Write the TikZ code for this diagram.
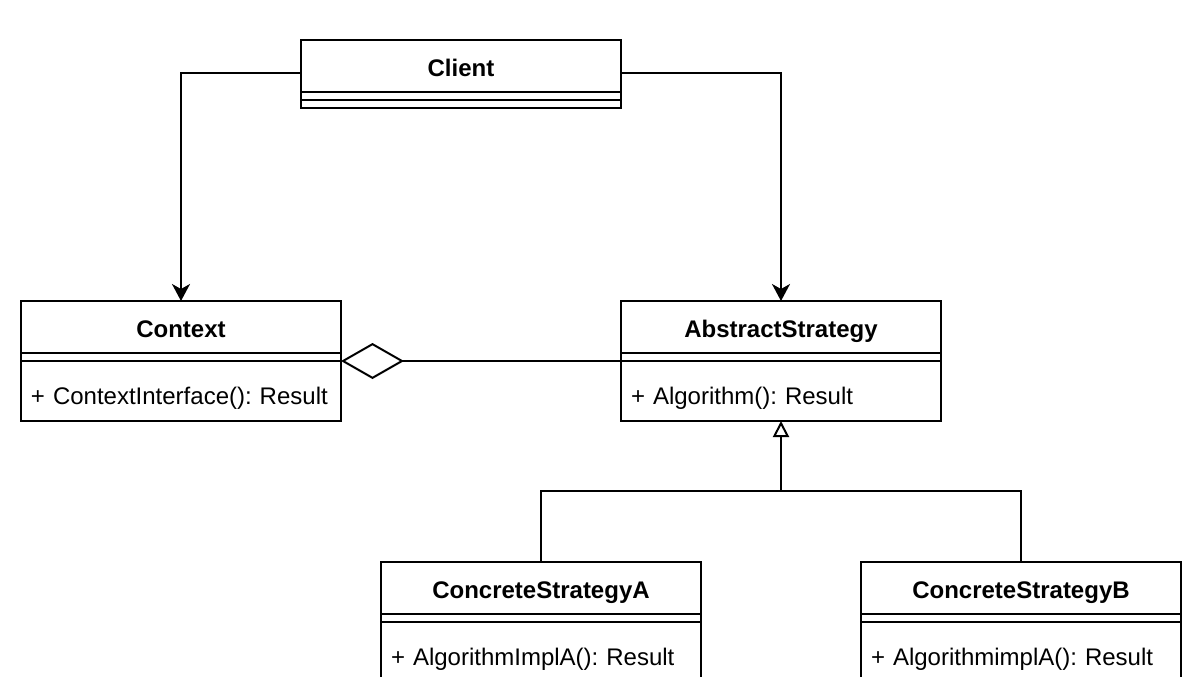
\documentclass[tikz,border=0pt]{standalone}
\usepackage{fontspec}
\setmainfont{Liberation Sans}
\usetikzlibrary{arrows.meta, positioning}

\tikzset{
  umlbox/.style={draw, line width=1pt, outer sep=0pt, inner sep=0pt, minimum width=160pt},
  umlhead/.style={umlbox, minimum height=26pt, font=\fontsize{12}{14}\selectfont\bfseries,
    text height=10.5pt, text depth=0pt},
  umlgap/.style={umlbox, minimum height=4pt},
  umlbody/.style={umlbox, minimum height=30pt, text width=150pt, inner xsep=5pt, align=left,
    font=\fontsize{12}{14}\selectfont\frenchspacing,
    text height=13pt, text depth=0pt},
  assoc/.style={line width=1pt, -{Stealth[length=8.5pt, width=9pt, inset=2.5pt]}},
  aggr/.style={line width=1pt, {Diamond[open, length=31.5pt, width=18pt]}-},
  realize/.style={line width=1pt, -{Triangle[open, length=8pt, width=8pt]}},
  plainline/.style={line width=1pt}
}

\begin{document}
\begin{tikzpicture}[x=0.5pt, y=-0.5pt]

  \useasboundingbox (0,0) rectangle (1185,676);
  \fill[white] (0,0) rectangle (1185,676);
  \clip (0,0) rectangle (1185,676);

  % client
  \node[umlhead] (client) at (461,66) {Client};
  \node[umlgap, below=0pt of client] (clientA) {};
  \node[umlgap, below=0pt of clientA] (clientM) {};
  \coordinate (clientmid) at (461,73);

  % context
  \node[umlhead] (ctx) at (181,327) {Context};
  \node[umlgap, below=0pt of ctx] (ctxA) {};
  \node[umlbody, below=0pt of ctxA] (ctxM) {+ ContextInterface(): Result};

  % strategy
  \node[umlhead] (strat) at (781,327) {AbstractStrategy};
  \node[umlgap, below=0pt of strat] (stratA) {};
  \node[umlbody, below=0pt of stratA] (stratM) {+ Algorithm(): Result};

  % concrete strategies
  \node[umlhead] (csa) at (541,588) {ConcreteStrategyA};
  \node[umlgap, below=0pt of csa] (csaA) {};
  \node[umlbody, below=0pt of csaA] (csaM) {+ AlgorithmImplA(): Result};

  \node[umlhead] (csb) at (1021,588) {ConcreteStrategyB};
  \node[umlgap, below=0pt of csb] (csbA) {};
  \node[umlbody, below=0pt of csbA] (csbM) {+ AlgorithmimplA(): Result};

  % connectors
  \draw[assoc] (client.west |- clientmid) -| (ctx.north);
  \draw[assoc] (client.east |- clientmid) -| (strat.north);
  \draw[aggr] (ctxA.south east) -- (stratA.south west);

  \coordinate (split) at (781,491);
  \draw[realize] (split) -- (stratM.south);
  \foreach \c in {csa, csb} {
    \draw[plainline] (\c.north) |- (split);
  }

\end{tikzpicture}
\end{document}
